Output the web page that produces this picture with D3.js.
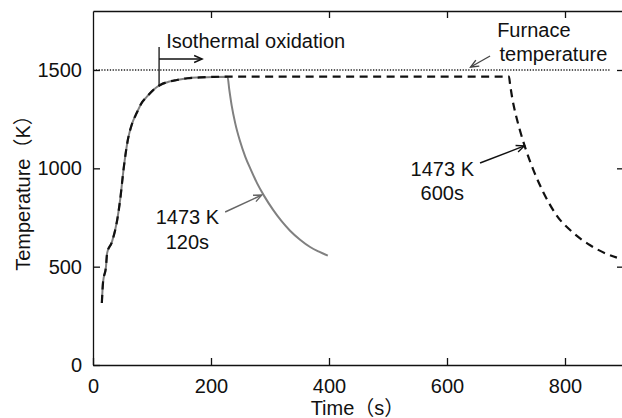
<!DOCTYPE html>
<html>
<head>
<meta charset="utf-8">
<script src="https://cdn.jsdelivr.net/npm/d3@7"></script>
<style>
  html, body { margin: 0; padding: 0; background: #fff; }
  svg { display: block; }
  text { font-family: "Liberation Sans", Arial, "Noto Sans CJK JP", sans-serif; font-size: 20px; fill: #111; }
  .axis path, .axis line { stroke: #111; stroke-width: 1.3; }
</style>
</head>
<body>
<svg id="chart" width="622" height="418"></svg>
<script>
// ── Data ──────────────────────────────────────────────────────────────────

const xTicks = [0, 200, 400, 600, 800];
const yTicks = [0, 500, 1000, 1500];

// heating ramp shared by both runs
const heatTime = [15, 17, 22, 24, 32, 41, 46, 52, 59, 66, 74, 82, 91, 102, 114, 128, 142, 160, 181, 205, 228];
const heatTemp = [315, 420, 500, 570, 625, 737, 839, 1000, 1144, 1225, 1281, 1330, 1363, 1398, 1424, 1440, 1449, 1458, 1462, 1465, 1466];

// 120 s hold, then cooling (grey solid)
const cool120Time = [231, 235, 241, 249, 258, 268, 278, 290, 305, 320, 334, 351, 368, 384, 398];
const cool120Temp = [1400, 1320, 1230, 1140, 1060, 990, 925, 860, 790, 730, 683, 637, 600, 575, 556];

// 600 s hold, then cooling (black dashed)
const hold600Time = [705];
const hold600Temp = [1466];
const cool600Time = [707, 711, 716, 723, 732, 746, 763, 786, 814, 842, 873, 888];
const cool600Temp = [1425, 1350, 1280, 1200, 1110, 995, 880, 760, 672, 610, 562, 546];

const furnaceTemp = 1500;
const furnaceSpan = [0, 876];
const isoStart = 112;

// ── Layout ────────────────────────────────────────────────────────────────

const svg = d3.select('#chart');

const x = d3.scaleLinear().domain([0, 900]).range([93, 624]);
const y = d3.scaleLinear().domain([0, 1800]).range([365, 11]);

const zip = (ts, vs) => ts.map((t, i) => ({ t, v: vs[i] }));
const run120 = zip(heatTime.concat(cool120Time), heatTemp.concat(cool120Temp));
const run600 = zip(heatTime.concat(hold600Time, cool600Time), heatTemp.concat(hold600Temp, cool600Temp));

const line = d3.line()
  .x(d => x(d.t))
  .y(d => y(d.v))
  .curve(d3.curveMonotoneX);

// Arrow heads
const defs = svg.append('defs');
[['arrow-black', '#111'], ['arrow-grey', '#666'], ['arrow-dark', '#444']].forEach(([id, c]) => {
  defs.append('marker')
    .attr('id', id)
    .attr('markerUnits', 'userSpaceOnUse')
    .attr('viewBox', '-10 -6 12 12')
    .attr('markerWidth', 12)
    .attr('markerHeight', 12)
    .attr('refX', 0)
    .attr('refY', 0)
    .attr('orient', 'auto')
    .append('path')
    .attr('d', 'M-8,-3.5 L0,0 L-8,3.5')
    .attr('fill', 'none')
    .attr('stroke', c)
    .attr('stroke-width', 1.4);
});

// Furnace temperature (dotted)
svg.append('line')
  .attr('x1', x(furnaceSpan[0]))
  .attr('x2', x(furnaceSpan[1]))
  .attr('y1', y(furnaceTemp))
  .attr('y2', y(furnaceTemp))
  .attr('stroke', '#222')
  .attr('stroke-width', 1.3)
  .attr('stroke-dasharray', '1.3 1.5');

// Curves
svg.append('path')
  .datum(run120)
  .attr('d', line)
  .attr('fill', 'none')
  .attr('stroke', '#808080')
  .attr('stroke-width', 2);

svg.append('path')
  .datum(run600)
  .attr('d', line)
  .attr('fill', 'none')
  .attr('stroke', '#111')
  .attr('stroke-width', 2.2)
  .attr('stroke-dasharray', '8 5.5');

// ── Axes (frame with inward ticks) ────────────────────────────────────────

svg.append('g')
  .attr('class', 'axis')
  .attr('transform', `translate(0,${y(0)})`)
  .call(d3.axisBottom(x).tickValues(xTicks).tickFormat(d3.format('d'))
    .tickSize(-7).tickSizeOuter(0).tickPadding(14))
  .call(g => g.selectAll('text').style('font-size', '20px').attr('fill', '#111'));

svg.append('g')
  .attr('class', 'axis')
  .attr('transform', `translate(${x(0)},0)`)
  .call(d3.axisLeft(y).tickValues(yTicks).tickFormat(d3.format('d'))
    .tickSize(-7).tickSizeOuter(0).tickPadding(11))
  .call(g => g.selectAll('text').style('font-size', '20px').attr('fill', '#111'));

svg.append('g')
  .attr('class', 'axis')
  .attr('transform', `translate(0,${y(1800)})`)
  .call(d3.axisTop(x).tickValues(xTicks.slice(1)).tickSize(-7).tickSizeOuter(0).tickFormat(''));

svg.append('g')
  .attr('class', 'axis')
  .attr('transform', `translate(${x(900)},0)`)
  .call(d3.axisRight(y).tickValues(yTicks.slice(1)).tickSize(-7).tickSizeOuter(0).tickFormat(''));

// Axis titles
svg.append('text')
  .attr('x', (x(0) + x(900)) / 2 - 1)
  .attr('y', 415)
  .attr('text-anchor', 'middle')
  .text('Time（s）');

svg.append('text')
  .attr('transform', `translate(30,${(y(0) + y(1800)) / 2})rotate(-90)`)
  .attr('text-anchor', 'middle')
  .text('Temperature（K）');

// ── Annotations ───────────────────────────────────────────────────────────

// Isothermal oxidation marker
svg.append('line')
  .attr('x1', x(isoStart)).attr('x2', x(isoStart))
  .attr('y1', y(1617)).attr('y2', y(1419))
  .attr('stroke', '#111').attr('stroke-width', 1.3);

svg.append('line')
  .attr('x1', x(isoStart)).attr('x2', x(185))
  .attr('y1', y(1556)).attr('y2', y(1556))
  .attr('stroke', '#111').attr('stroke-width', 1.3)
  .attr('marker-end', 'url(#arrow-black)');

svg.append('text')
  .attr('x', x(124))
  .attr('y', y(1612))
  .text('Isothermal oxidation');

// Furnace temperature label
svg.append('text').attr('x', x(685)).attr('y', y(1668)).text('Furnace');
svg.append('text').attr('x', x(689)).attr('y', y(1546)).text('temperature');

svg.append('line')
  .attr('x1', x(673)).attr('y1', y(1571))
  .attr('x2', x(640)).attr('y2', y(1515))
  .attr('stroke', '#444').attr('stroke-width', 1.3)
  .attr('marker-end', 'url(#arrow-dark)');

// 600 s label
svg.append('text').attr('x', x(592)).attr('y', y(961)).attr('text-anchor', 'middle').text('1473 K');
svg.append('text').attr('x', x(592)).attr('y', y(839)).attr('text-anchor', 'middle').text('600s');

svg.append('line')
  .attr('x1', x(656)).attr('y1', y(1027))
  .attr('x2', x(731)).attr('y2', y(1114))
  .attr('stroke', '#111').attr('stroke-width', 1.5)
  .attr('marker-end', 'url(#arrow-black)');

// 120 s label
svg.append('text').attr('x', x(160)).attr('y', y(717)).attr('text-anchor', 'middle').text('1473 K');
svg.append('text').attr('x', x(160)).attr('y', y(590)).attr('text-anchor', 'middle').text('120s');

svg.append('line')
  .attr('x1', x(224)).attr('y1', y(778))
  .attr('x2', x(286)).attr('y2', y(864))
  .attr('stroke', '#666').attr('stroke-width', 1.5)
  .attr('marker-end', 'url(#arrow-grey)');
</script>
</body>
</html>
